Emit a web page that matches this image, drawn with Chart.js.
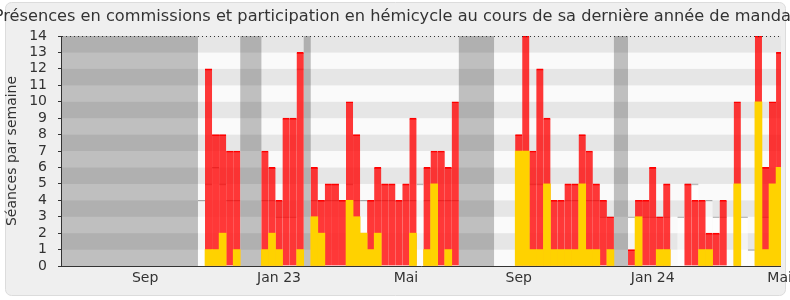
<!DOCTYPE html>
<html><head><meta charset="utf-8">
<script src="https://cdn.jsdelivr.net/npm/chart.js@4.4.1/dist/chart.umd.min.js"></script>
<style>html,body{margin:0;padding:0;background:#fff;}#wrap{width:790px;height:300px;}</style>
</head><body><div id="wrap"><canvas id="c" width="790" height="300"></canvas></div>
<script>
// ---- Données ----
const titre = "Présences en commissions et participation en hémicycle au cours de sa dernière année de mandat";
const titreAxeY = "Séances par semaine";
const moisLabels = ["Sep", "Jan 23", "Mai", "Sep", "Jan 24", "Mai"];
const moisSemaines = [11, 30, 48, 64, 83, 101];
// semaines 0..101 : présences en commission (rouge)
const commission = [
  0,0,0,0,0,0,0,0,0,0, 0,0,0,0,0,0,0,0,0,0,
  12,8,8,7,7,0,0,0,7,6, 4,9,9,13,0,6,4,5,5,4,
  10,8,2,4,6,5,5,4,5,9, 0,6,7,7,6,10,0,0,0,0,
  0,0,0,0,8,14,7,12,9,4, 4,5,5,8,7,5,4,3,0,0,
  1,4,4,6,3,5,0,0,5,4, 4,2,2,4,0,10,0,0,14,6,
  10,13
];
// participation en hémicycle (jaune)
const hemicycle = [
  0,0,0,0,0,0,0,0,0,0, 0,0,0,0,0,0,0,0,0,0,
  1,1,2,0,1,0,0,0,1,2, 1,0,0,1,0,3,2,0,0,0,
  4,3,2,1,2,0,0,0,0,2, 0,1,5,0,1,0,0,0,0,0,
  0,0,0,0,7,7,1,1,5,1, 1,1,1,5,1,1,0,1,0,0,
  0,3,0,0,1,1,0,0,0,0, 1,1,0,0,0,5,0,0,10,1,
  5,6
];
// médiane des députés
const mediane = [
  null,null,null,null,null,null,null,null,null,null, null,null,null,null,null,null,null,null,null,4,
  5,6,5,4,4,null,null,null,4,4, 3,3,3,12,null,4,4,4,4,4,
  5,4,4,4,4,4,4,4,4,4, 5,4,4,4,4,4,null,null,null,null,
  null,null,null,null,4,5,5,5,5,4, 4,4,4,4,4,4,3,3,null,null,
  3,3,3,3,3,3,null,3,5,5, 4,4,3,3,null,3,3,1,3,3,
  3,3
];
// vacances parlementaires (semaines)
const vacances = [-1,0,1,2,3,4,5,6,7,8,9,10,11,12,13,14,15,16,17,18,25,26,27,34,56,57,58,59,60,78,79];

// ---- Construction ----
const F = 'DejaVu Sans';
Chart.defaults.font.family = F;
const pts = arr => arr.map((v, i) => v ? {x: i, y: v} : null).filter(Boolean);
const medPts = mediane.map((v, i) => v !== null ? {x: i, y: [0, v]} : null).filter(Boolean);

// regroupe les semaines de vacances consécutives
const vacRanges = [];
vacances.forEach(w => {
  const last = vacRanges[vacRanges.length - 1];
  if (last && w === last[1] + 1) last[1] = w; else vacRanges.push([w, w]);
});

const decor = {
  id: 'decor',
  beforeDraw(chart) {
    const {ctx, chartArea: a, scales: {x, y}} = chart;
    ctx.save();
    ctx.fillStyle = '#ffffff';
    ctx.fillRect(0, 0, chart.width, chart.height);
    const x0 = 5.5, y0 = 2.5, w = 780, h = 293, r = 6;
    ctx.beginPath();
    ctx.moveTo(x0 + r, y0); ctx.lineTo(x0 + w - r, y0); ctx.arcTo(x0 + w, y0, x0 + w, y0 + r, r);
    ctx.lineTo(x0 + w, y0 + h - r); ctx.arcTo(x0 + w, y0 + h, x0 + w - r, y0 + h, r);
    ctx.lineTo(x0 + r, y0 + h); ctx.arcTo(x0, y0 + h, x0, y0 + h - r, r);
    ctx.lineTo(x0, y0 + r); ctx.arcTo(x0, y0, x0 + r, y0, r); ctx.closePath();
    ctx.fillStyle = '#efefef'; ctx.fill();
    ctx.strokeStyle = '#dcdcdc'; ctx.lineWidth = 1; ctx.stroke();
    y.ticks.forEach((t, k) => {
      if (k === y.ticks.length - 1) return;
      const yb = y.getPixelForValue(t.value), yt = y.getPixelForValue(t.value + 1);
      ctx.fillStyle = (t.value % 2) ? '#e6e6e6' : '#fafafa';
      ctx.fillRect(a.left, yt, a.right - a.left, yb - yt);
    });
    // vacances parlementaires
    ctx.save();
    ctx.beginPath();
    ctx.rect(a.left, a.top, a.right - a.left, a.bottom - a.top);
    ctx.clip();
    ctx.fillStyle = 'rgba(0,0,0,0.235)';
    vacRanges.forEach(([s, e]) => {
      const xl = x.getPixelForValue(s - 0.5), xr = x.getPixelForValue(e + 0.5);
      ctx.fillRect(xl, y.getPixelForValue(14), xr - xl, y.getPixelForValue(0) - y.getPixelForValue(14));
    });
    ctx.restore();
    // titre (peut déborder du cadre comme dans l'original)
    ctx.fillStyle = '#333';
    ctx.font = '16.2px "DejaVu Sans"';
    ctx.textAlign = 'center';
    ctx.textBaseline = 'middle';
    ctx.fillText(titre, 395.5, 17);
    ctx.restore();
  },
  afterDatasetsDraw(chart) {
    const {ctx, chartArea: a} = chart;
    ctx.save();
    ctx.strokeStyle = '#333'; ctx.lineWidth = 1;
    ctx.setLineDash([1, 3]);
    ctx.beginPath(); ctx.moveTo(a.left, a.top + 0.5); ctx.lineTo(a.right, a.top + 0.5); ctx.stroke();
    ctx.setLineDash([]);
    ctx.beginPath();
    ctx.moveTo(a.left - 0.5, a.top); ctx.lineTo(a.left - 0.5, a.bottom + 0.5); ctx.lineTo(a.right, a.bottom + 0.5);
    ctx.stroke();
    ctx.restore();
  }
};

new Chart(document.getElementById('c'), {
  type: 'bar',
  data: {
    datasets: [
      {label: 'Participation en hémicycle', data: pts(hemicycle), backgroundColor: '#ffd200', order: 0},
      {label: 'Présences en commission', data: pts(commission), backgroundColor: 'rgba(255,0,0,0.78)',
       borderColor: '#ff0000', borderWidth: {top: 1, left: 0, right: 0, bottom: 0}, borderSkipped: false, order: 1},
      {label: 'Médiane', data: medPts, backgroundColor: 'rgba(255,255,255,0.5)',
       borderColor: '#a6a6a6', borderWidth: {top: 1, left: 0, right: 0, bottom: 0}, borderSkipped: false, order: 2}
    ]
  },
  options: {
    responsive: false,
    animation: false,
    devicePixelRatio: 1,
    datasets: {bar: {grouped: false, barPercentage: 1, categoryPercentage: 1}},
    layout: {padding: {left: 0, right: 9, top: 36, bottom: 0}},
    plugins: {
      legend: {display: false},
      tooltip: {enabled: false},
      title: {display: false}
    },
    scales: {
      x: {
        type: 'linear', min: -0.784, max: 101.2, offset: false,
        grid: {display: false, drawTicks: false, offset: false},
        border: {display: false},
        ticks: {autoSkip: false, maxRotation: 0, padding: 4, color: '#333', font: {family: F, size: 14},
                callback: (v, i) => moisLabels[i]},
        afterBuildTicks: s => { s.ticks = moisSemaines.map(v => ({value: v})); },
        afterFit: s => { s.height = 34; s.paddingLeft = 0; s.paddingRight = 0; }
      },
      y: {
        min: 0, max: 14,
        grid: {drawOnChartArea: false, drawTicks: true, tickLength: 4, color: '#333'},
        border: {display: false},
        ticks: {stepSize: 1, autoSkip: false, padding: 11, color: '#333', font: {family: F, size: 14}},
        title: {display: true, text: titreAxeY, color: '#333', font: {family: F, size: 14}},
        afterFit: s => { s.width = 62; s.paddingTop = 0; s.paddingBottom = 0; }
      }
    }
  },
  plugins: [decor]
});
</script>
</body></html>
